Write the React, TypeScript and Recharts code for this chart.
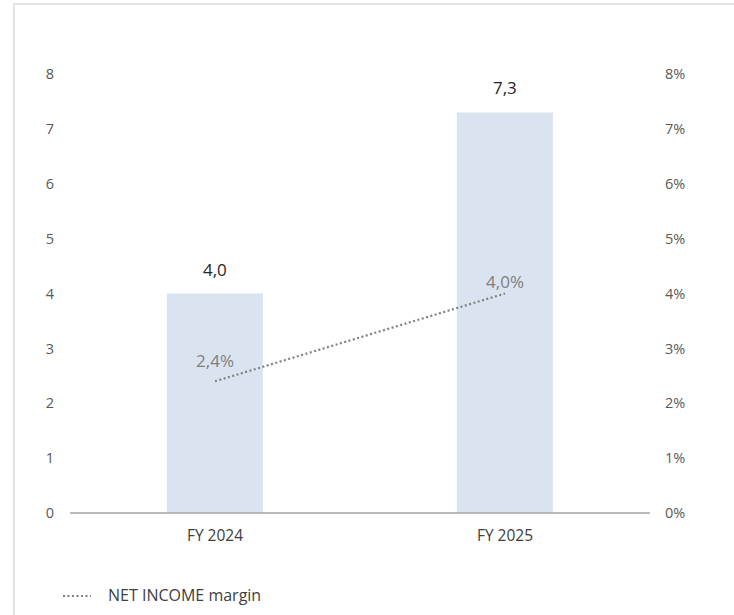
import React from "react";
import { ComposedChart, Bar, Line, XAxis, YAxis, LabelList } from "recharts";

const categories = ["FY 2024", "FY 2025"];
const netIncome = [4.0, 7.3];
const margin = [2.4, 4.0];
const leftTicks = [0, 1, 2, 3, 4, 5, 6, 7, 8];
const rightTicks = [0, 1, 2, 3, 4, 5, 6, 7, 8];

const data = categories.map((name, i) => ({ name, income: netIncome[i], margin: margin[i] }));

const FONT = "'Open Sans', 'Noto Sans', sans-serif";
const fmt = (v: number) => v.toFixed(1).replace(".", ",");

// Excel put the two margin labels at slightly different heights
const marginLabelLift = [14, 6];

function MarginLabel(props: any) {
  const { x, y, value, index } = props;
  return (
    <text x={x} y={y - marginLabelLift[index]} textAnchor="middle" fill="#7f7f7f" fontSize={17} fontFamily={FONT}>
      {fmt(value) + "%"}
    </text>
  );
}

export default function App() {
  return (
    <div style={{ position: "absolute", left: 0, top: 0, width: 734, height: 615, background: "#fff", fontFamily: FONT }}>
      <div
        style={{
          position: "absolute",
          left: 13,
          top: 3,
          width: 740,
          height: 640,
          border: "2px solid #e4e4e4",
          boxSizing: "border-box",
        }}
      />
      <div style={{ position: "absolute", left: 0, top: 0 }}>
        <ComposedChart
          width={734}
          height={615}
          data={data}
          margin={{ top: 74, right: 0, bottom: 72, left: 0 }}
          barCategoryGap="33.4%"
        >
          <XAxis
            dataKey="name"
            axisLine={{ stroke: "#a6a6a6", strokeWidth: 1.5 }}
            tickLine={false}
            tickMargin={11}
            height={30}
            tick={{ fill: "#404040", fontSize: 15.5, fontFamily: FONT }}
          />
          <YAxis
            yAxisId="left"
            domain={[0, 8]}
            ticks={leftTicks}
            width={70}
            axisLine={false}
            tickLine={false}
            tickSize={0}
            tickMargin={16}
            tick={{ fill: "#595959", fontSize: 14.5, fontFamily: FONT }}
          />
          <YAxis
            yAxisId="right"
            orientation="right"
            domain={[0, 8]}
            ticks={rightTicks}
            width={84}
            axisLine={false}
            tickLine={false}
            tickSize={0}
            tickMargin={15}
            tickFormatter={(v) => `${v}%`}
            tick={{ fill: "#595959", fontSize: 14.5, fontFamily: FONT, textAnchor: "start" }}
          />
          <Bar yAxisId="left" dataKey="income" fill="#dae3f0" isAnimationActive={false}>
            <LabelList
              dataKey="income"
              position="top"
              offset={18}
              formatter={(v: any) => fmt(Number(v))}
              style={{ fill: "#262626", fontSize: 17, fontFamily: FONT }}
            />
          </Bar>
          <Line
            yAxisId="right"
            dataKey="margin"
            stroke="#808080"
            strokeWidth={2.2}
            strokeDasharray="2 2.5"
            dot={false}
            activeDot={false}
            isAnimationActive={false}
          >
            <LabelList dataKey="margin" content={MarginLabel} />
          </Line>
        </ComposedChart>
      </div>
      <div style={{ position: "absolute", left: 62, top: 584, display: "flex", alignItems: "center" }}>
        <svg width={30} height={20}>
          <line x1={1} y1={11} x2={29} y2={11} stroke="#808080" strokeWidth={2.2} strokeDasharray="2 2.5" />
        </svg>
        <span style={{ marginLeft: 16, fontSize: 16, color: "#404040" }}>NET INCOME margin</span>
      </div>
    </div>
  );
}
